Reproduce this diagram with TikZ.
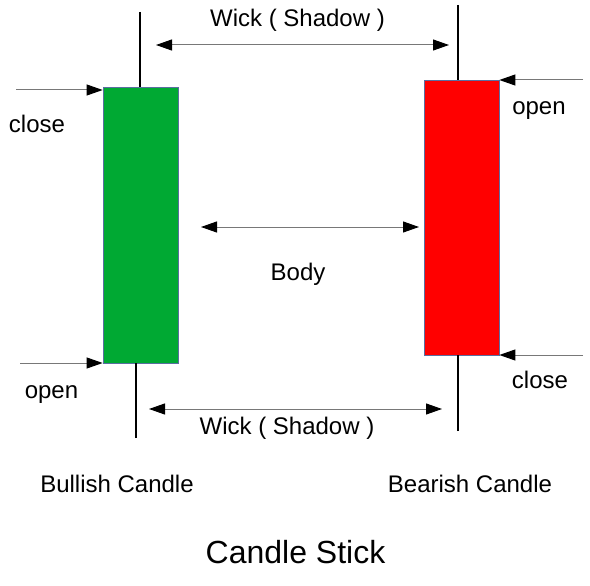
\documentclass[tikz,border=0pt]{standalone}
\usepackage{fontspec}
\setmainfont{Liberation Sans}
\usetikzlibrary{arrows.meta}

\definecolor{bullgreen}{RGB}{0,169,51}
\definecolor{bearred}{RGB}{255,0,0}
\definecolor{boxline}{RGB}{90,110,160}
\definecolor{arrowgray}{RGB}{120,120,120}

\tikzset{
  candle/.style={rectangle, draw=boxline, line width=.7pt, minimum width=75pt,
    minimum height=275pt, inner sep=0pt},
  wick/.style={draw=black, line width=1.5pt},
  tip/.style={Triangle[length=16pt,width=11pt,color=black]},
  pointer/.style={draw=arrowgray, line width=1pt, -{Triangle[length=16pt,width=11pt,color=black]}},
  span/.style={draw=arrowgray, line width=1pt,
    {Triangle[length=16pt,width=11pt,color=black]}-{Triangle[length=16pt,width=11pt,color=black]}},
}

\begin{document}
\begin{tikzpicture}[x=1pt,y=-1pt]
        \useasboundingbox (0,0) rectangle (590,586);

        % candles
        \node[candle, fill=bullgreen, minimum height=276pt] (bull) at (140.5,225) {};
        \node[candle, fill=bearred] (bear) at (461.5,217.5) {};

        % wicks
        \coordinate (bulltop) at (140,12);
        \coordinate (bullbot) at (136,438);
        \coordinate (beartop) at (458,5);
        \coordinate (bearbot) at (458,431);
        \draw[wick] (bulltop) -- (bulltop |- bull.north);
        \draw[wick] (bullbot) -- (bullbot |- bull.south);
        \draw[wick] (beartop) -- (beartop |- bear.north);
        \draw[wick] (bearbot) -- (bearbot |- bear.south);

        % open / close pointers
        \coordinate (bullclose) at (16,90);
        \coordinate (bullopen)  at (20,363);
        \coordinate (bearopen)  at (583,80);
        \coordinate (bearclose) at (583,355);
        \draw[pointer] (bullclose) -- (bullclose -| bull.west);
        \draw[pointer] (bullopen)  -- (bullopen -| bull.west);
        \draw[pointer] (bearopen)  -- (bearopen -| bear.east);
        \draw[pointer] (bearclose) -- (bearclose -| bear.east);

        % spans
        \coordinate (wicktopl) at (156,45);
        \coordinate (wicktopr) at (449,45);
        \coordinate (bodyl)    at (201,227);
        \coordinate (bodyr)    at (419,227);
        \coordinate (wickbotl) at (149,409);
        \coordinate (wickbotr) at (442,409);
        \draw[span] (wicktopl) -- (wicktopr);
        \draw[span] (bodyl) -- (bodyr);
        \draw[span] (wickbotl) -- (wickbotr);

        \begin{scope}[every node/.style={anchor=base, inner sep=0pt, font=\fontsize{24}{28}\selectfont}]
          \node (wicktoptext) at (297.5,27)  {Wick ( Shadow )};
          \node (wickbottext) at (287,434)   {Wick ( Shadow )};
          \node (bodytext)    at (298,280)   {Body};
          \node (bullclosetx) at (37,132)    {close};
          \node (bullopentx)  at (51.5,398)  {open};
          \node (bearopentx)  at (539,115)   {open};
          \node (bearclosetx) at (540,388)   {close};
          \node (bulltext)    at (117,492)   {Bullish Candle};
          \node (beartext)    at (470,492)   {Bearish Candle};
          \node[font=\fontsize{32}{38}\selectfont] (title) at (295.5,563) {Candle Stick};
        \end{scope}

      \end{tikzpicture}
\end{document}
